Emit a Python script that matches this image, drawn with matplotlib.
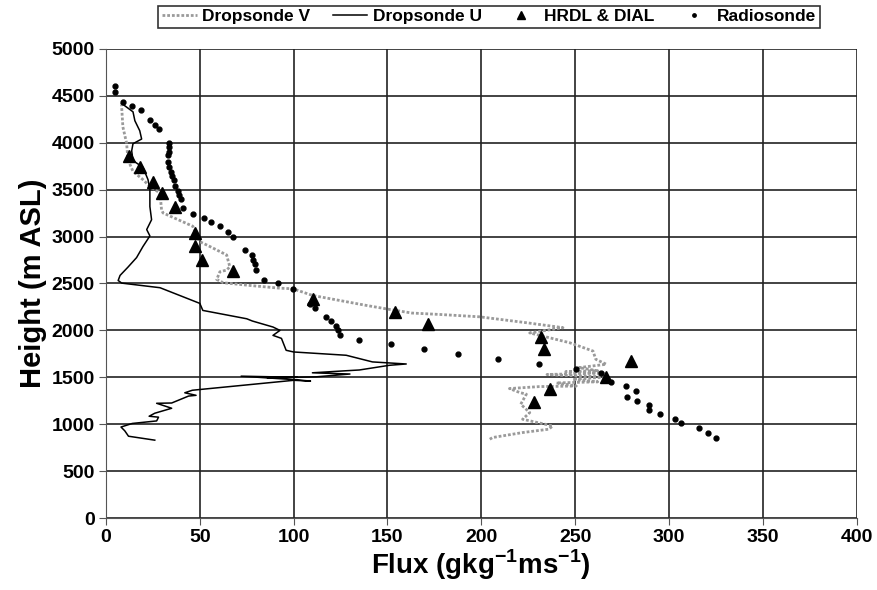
import matplotlib.pyplot as plt

plt.rcParams['font.family'] = ['Liberation Sans', 'DejaVu Sans']
plt.rcParams['font.weight'] = 'bold'
plt.rcParams['mathtext.fontset'] = 'custom'
plt.rcParams['mathtext.rm'] = 'Liberation Sans:bold'
plt.rcParams['mathtext.bf'] = 'Liberation Sans:bold'

# Dropsonde U (solid line), bottom to top
u_flux = [26, 12, 10, 8, 14, 27, 28, 23, 26, 35, 27, 35, 44, 48, 42, 46,
          100, 109, 98, 72, 102, 86, 112, 130, 110, 128, 135, 151, 160, 142,
          128, 100, 96, 93.5, 89, 92.7, 89, 78, 75, 51.6, 50, 28.8, 8.4, 6.5,
          7.5, 11.7, 16.3, 19.7, 23.4, 21.7, 24.3, 23.4, 23.4, 22.4, 19.7,
          14.4, 13.7, 14.4, 19, 18, 15.4, 14.4, 8.3]
u_height = [830, 872, 930, 970, 1008, 1035, 1075, 1085, 1117, 1170, 1223, 1226,
            1300, 1308, 1335, 1362, 1468, 1460, 1478, 1512, 1500, 1495, 1505,
            1535, 1548, 1570, 1578, 1628, 1642, 1664, 1735, 1770, 1788, 1915,
            1947, 2000, 2036, 2100, 2124, 2213, 2288, 2455, 2504, 2532, 2586,
            2674, 2776, 2894, 3007, 3075, 3180, 3320, 3500, 3607, 3738, 3810,
            3915, 3990, 4040, 4128, 4235, 4330, 4420]

# Dropsonde V (dotted line), bottom to top
v_flux = [204.5, 206, 222, 236, 238, 222, 225.8, 221, 224, 220.4, 215, 231,
          250.6, 240, 262, 257.7, 248.7, 266.6, 241.7, 235, 265, 245, 262, 252,
          266.6, 261, 259.5, 247, 225.8, 243.5, 224, 199, 177.8, 163, 151,
          138.8, 110, 99.6, 92.6, 76.7, 62.5, 59, 60.7, 64.3, 66, 65, 64.3,
          55.4, 50, 48.3, 46.3, 30.4, 29.6, 28.8, 23.4, 19.7, 14.4, 11.7, 11,
          9, 8.3, 10]
v_height = [840, 858, 911, 947, 982, 1053, 1124, 1213, 1320, 1338, 1380, 1401,
            1407, 1440, 1452, 1460, 1479, 1504, 1522, 1530, 1545, 1560, 1570,
            1603, 1639, 1692, 1780, 1869, 1973, 2029, 2082, 2145, 2170, 2185,
            2224, 2266, 2373, 2444, 2450, 2479, 2508, 2543, 2625, 2643, 2678,
            2750, 2804, 2894, 2946, 3004, 3110, 3252, 3287, 3464, 3535, 3607,
            3695, 3820, 3995, 4170, 4400, 4450]

# HRDL & DIAL
hd_flux = [12.4, 18, 24.8, 29.6, 36.7, 47.4, 47.4, 51.3, 67.8, 110.4, 153.9,
           171.6, 232, 233.4, 279.6, 266.6, 236.4, 228]
hd_height = [3862, 3745, 3585, 3464, 3320, 3040, 2905, 2752, 2628, 2337, 2195,
             2064, 1933, 1798, 1676, 1504, 1380, 1237]

# Radiosonde
rs_flux = [4.8, 4.8, 9.2, 13.7, 18.5, 23.4, 26, 28.4, 33.7, 33.7, 33.7, 33.2,
           33.2, 33.7, 34.4, 35, 36.2, 37, 38.2, 39, 40, 41.2, 46.5, 52.2, 56.2,
           60.7, 65, 67.6, 74, 77.6, 78.5, 79.3, 80.2, 84.1, 91.7, 99.6, 108.6,
           111.3, 117, 120, 122.5, 123.7, 124.9, 135, 152, 169.3, 187.6, 208.9,
           230.7, 250.6, 264, 269.3, 276.9, 282.6, 277.6, 283, 289.3, 289.3,
           295, 303, 306.5, 316, 320.7, 324.8]
rs_height = [4600, 4545, 4438, 4392, 4350, 4245, 4190, 4143, 4002, 3960, 3907,
             3870, 3795, 3745, 3688, 3645, 3600, 3535, 3485, 3440, 3400, 3305,
             3240, 3200, 3153, 3110, 3046, 2997, 2855, 2804, 2750, 2708, 2643,
             2540, 2500, 2443, 2284, 2241, 2142, 2100, 2043, 2000, 1947, 1893,
             1850, 1797, 1752, 1699, 1645, 1592, 1545, 1450, 1405, 1352, 1295,
             1252, 1203, 1150, 1104, 1058, 1008, 955, 902, 849]

fig = plt.figure(figsize=(8.78, 5.9), dpi=100)
ax = fig.add_axes([0.1207, 0.122, 0.855, 0.795])

lv, = ax.plot(v_flux, v_height, color='#9a9a9a', lw=2, ls=(0, (1, 0.7)),
              label='Dropsonde V')
lu, = ax.plot(u_flux, u_height, color='black', lw=1.1, label='Dropsonde U')
lh, = ax.plot(hd_flux, hd_height, '^', color='black', ms=8, ls='none',
              label='HRDL & DIAL')
lr, = ax.plot(rs_flux, rs_height, 'o', color='black', ms=3.5, ls='none',
              label='Radiosonde')

ax.set_xlim(0, 400)
ax.set_ylim(0, 5000)
ax.set_xticks(range(0, 401, 50))
ax.set_yticks(range(0, 5001, 500))
ax.grid(True, color='#222222', lw=1.2)
ax.set_axisbelow(True)
for side in ['top', 'right']:
    ax.spines[side].set_visible(False)
ax.spines['left'].set_color('#555555')
ax.spines['bottom'].set_color('#555555')
ax.tick_params(labelsize=14, length=5, color='#555555', pad=3)
ax.set_xlabel('Flux (gkg$^{\\mathbf{-1}}$ms$^{\\mathbf{-1}}$)', fontsize=20,
              fontweight='bold', labelpad=1)
ax.set_ylabel('Height (m ASL)', fontsize=21, fontweight='bold', labelpad=3)

leg = fig.legend(handles=[lv, lu, lh, lr], loc='upper center', ncol=4,
                 bbox_to_anchor=(0.557, 1.005), fontsize=12.5, frameon=True,
                 fancybox=False, edgecolor='black', handlelength=2.0,
                 handletextpad=0.3, columnspacing=1.3, borderpad=0.2,
                 markerscale=0.7)
leg.get_frame().set_linewidth(1.2)

fig.savefig('out.png', dpi=100)
